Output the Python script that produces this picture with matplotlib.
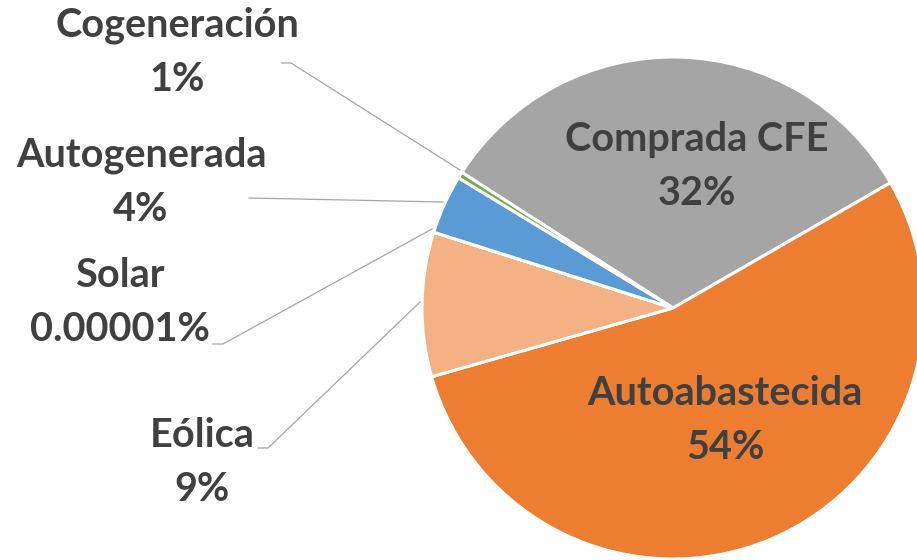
import matplotlib
matplotlib.use('Agg')
import matplotlib.pyplot as plt

# shares (clockwise from the top-left)
names = ['Comprada CFE', 'Autoabastecida', 'Eólica', 'Solar', 'Autogenerada', 'Cogeneración']
shares = [32.6, 53.9, 9.3, 0.00001, 3.8, 0.4]
pct_labels = ['32%', '54%', '9%', '0.00001%', '4%', '1%']
colors = ['#A5A5A5', '#ED7D31', '#F4B183', '#FFC000', '#5B9BD5', '#70AD47']

W, H = 917, 560
fig = plt.figure(figsize=(W / 100, H / 100), dpi=100)
ax = fig.add_axes([0, 0, 1, 1])

ax.pie(shares, colors=colors, startangle=147.3, counterclock=False,
       center=(673, H - 308), radius=251,
       wedgeprops=dict(edgecolor='white', linewidth=2.2))

ax.set_xlim(0, W)
ax.set_ylim(0, H)
ax.set_aspect('equal')
ax.axis('off')

# label positions in pixels (x centre, baseline of first line)
label_pos = {
    'Comprada CFE': (697, 151),
    'Autoabastecida': (725, 405),
    'Eólica': (202, 447),
    'Solar': (120, 287),
    'Autogenerada': (141, 167),
    'Cogeneración': (177, 37),
}
line_gap = 54
txt = dict(fontsize=28.5, fontweight='bold', color='#404040', family='Lato',
           ha='center', va='baseline')
for name, pct in zip(names, pct_labels):
    x, y = label_pos[name]
    ax.text(x, H - y, name, **txt)
    ax.text(x, H - y - line_gap, pct, **txt)

# leader lines for the outside labels
leaders = [
    [(282, 63), (291, 63), (460, 170)],
    [(249, 198), (443, 202)],
    [(213, 344), (223, 344), (432, 229)],
    [(258, 448), (268, 448), (420, 302)],
]
for pts in leaders:
    xs = [p[0] for p in pts]
    ys = [H - p[1] for p in pts]
    ax.plot(xs, ys, color='#A6A6A6', linewidth=0.9)

plt.savefig('out.png', dpi=100)
